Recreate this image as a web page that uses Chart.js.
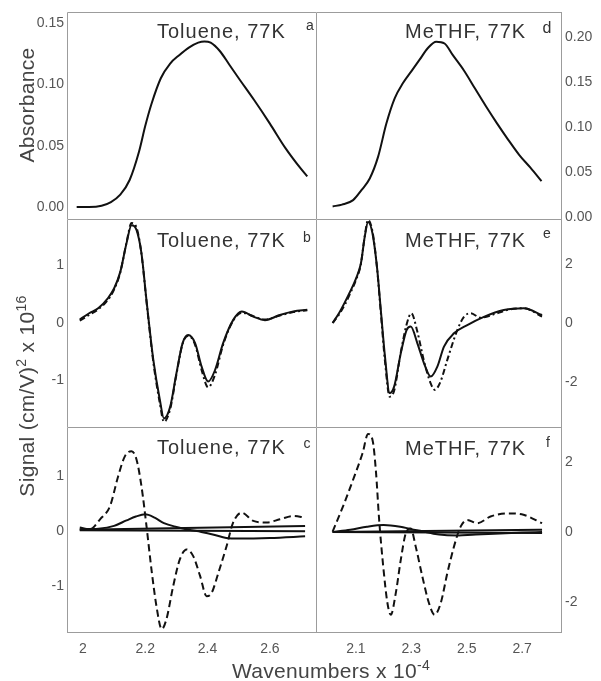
<!DOCTYPE html>
<html lang="en">
<head>
<meta charset="UTF-8">
<title>Stark spectra, Toluene and MeTHF at 77K</title>
<script src="https://cdn.jsdelivr.net/npm/chart.js"></script>
<style>
  body { margin: 0; background: #fff; }
  #fig { position: relative; width: 601px; height: 681px; overflow: hidden;
         font-family: "Liberation Sans", Arial, sans-serif; }
  .panel { position: absolute; }
  .txt { position: absolute; white-space: nowrap; color: #333; font-size: 20px; line-height: 20px; letter-spacing: 1px; }
  .tag { position: absolute; white-space: nowrap; color: #333; font-size: 14px; line-height: 14px; transform: translate(-50%, -50%); }
  .axt { position: absolute; white-space: nowrap; color: #444; font-size: 21px; line-height: 21px; letter-spacing: 0.3px; }
  .rot { transform: translate(-50%, -50%) rotate(-90deg); }
  sup { font-size: 14px; line-height: 0; }
</style>
</head>
<body>
<div id="fig">
  <div class="panel" style="left:0;top:0;width:316px;height:219px"><canvas id="pa"></canvas></div>
  <div class="panel" style="left:0;top:219px;width:316px;height:208px"><canvas id="pb"></canvas></div>
  <div class="panel" style="left:0;top:427px;width:316px;height:254px"><canvas id="pc"></canvas></div>
  <div class="panel" style="left:316px;top:0;width:285px;height:232px"><canvas id="pd"></canvas></div>
  <div class="panel" style="left:316px;top:219px;width:285px;height:208px"><canvas id="pe"></canvas></div>
  <div class="panel" style="left:316px;top:427px;width:285px;height:254px"><canvas id="pf"></canvas></div>

  <div class="txt" style="left:157px;top:21px">Toluene, 77K</div>
  <div class="txt" style="left:157px;top:230px">Toluene, 77K</div>
  <div class="txt" style="left:157px;top:437px">Toluene, 77K</div>
  <div class="txt" style="left:405px;top:21px">MeTHF, 77K</div>
  <div class="txt" style="left:405px;top:230px">MeTHF, 77K</div>
  <div class="txt" style="left:405px;top:438px">MeTHF, 77K</div>

  <div class="tag" style="left:310px;top:25px">a</div>
  <div class="tag" style="left:307px;top:237px">b</div>
  <div class="tag" style="left:307px;top:443px">c</div>
  <div class="tag" style="left:547px;top:28px;font-size:16px">d</div>
  <div class="tag" style="left:547px;top:233px">e</div>
  <div class="tag" style="left:548px;top:442px">f</div>

  <div class="axt rot" style="left:26px;top:105px">Absorbance</div>
  <div class="axt rot" style="left:26px;top:396px">Signal (cm/V)<sup>2</sup> x 10<sup>16</sup></div>
  <div class="axt" style="left:232px;top:660px">Wavenumbers x 10<sup>-4</sup></div>
</div>

<script>
  // tick values
  const xTicksLeft = [2.0, 2.2, 2.4, 2.6]
  const xTicksRight = [2.1, 2.3, 2.5, 2.7]
  const absTicksTol = [0, 0.05, 0.10, 0.15]
  const absTicksMe = [0, 0.05, 0.10, 0.15, 0.20]
  const sigTicksTol = [-1, 0, 1]
  const sigTicksMe = [-2, 0, 2]

  // a: toluene absorbance
  const absTolX = [1.98, 2.02, 2.06, 2.09, 2.12, 2.15, 2.18, 2.20, 2.22, 2.25, 2.28, 2.31, 2.34, 2.37, 2.39, 2.41, 2.44, 2.47, 2.50, 2.55, 2.60, 2.65, 2.70, 2.72]
  const absTolY = [0.000, 0.000, 0.001, 0.004, 0.010, 0.022, 0.045, 0.066, 0.084, 0.105, 0.117, 0.124, 0.130, 0.134, 0.135, 0.134, 0.127, 0.116, 0.105, 0.087, 0.068, 0.048, 0.031, 0.025]

  // d: MeTHF absorbance
  const absMeX = [2.016, 2.05, 2.09, 2.12, 2.15, 2.18, 2.21, 2.24, 2.27, 2.30, 2.33, 2.36, 2.39, 2.42, 2.45, 2.49, 2.53, 2.57, 2.61, 2.65, 2.69, 2.73, 2.77]
  const absMeY = [0.012, 0.014, 0.019, 0.030, 0.043, 0.067, 0.104, 0.132, 0.149, 0.162, 0.175, 0.188, 0.195, 0.193, 0.180, 0.163, 0.143, 0.123, 0.104, 0.086, 0.069, 0.055, 0.040]

  // b: toluene Stark signal, measured (solid) and fit (dash-dot)
  const starkTolX = [1.99, 2.02, 2.05, 2.08, 2.10, 2.12, 2.14, 2.156, 2.172, 2.188, 2.204, 2.226, 2.247, 2.26, 2.28, 2.30, 2.32, 2.338, 2.36, 2.381, 2.402, 2.424, 2.45, 2.482, 2.51, 2.547, 2.584, 2.632, 2.675, 2.72]
  const starkTolData = [0.06, 0.17, 0.26, 0.43, 0.60, 0.89, 1.39, 1.70, 1.62, 1.21, 0.40, -0.64, -1.34, -1.66, -1.46, -0.88, -0.35, -0.21, -0.35, -0.76, -1.02, -0.82, -0.35, 0.05, 0.20, 0.11, 0.05, 0.14, 0.20, 0.23]
  const starkTolFit = [0.04, 0.14, 0.24, 0.40, 0.58, 0.88, 1.40, 1.74, 1.66, 1.20, 0.38, -0.68, -1.40, -1.72, -1.50, -0.90, -0.36, -0.22, -0.38, -0.82, -1.12, -0.90, -0.38, 0.04, 0.18, 0.12, 0.06, 0.13, 0.19, 0.22]

  // e: MeTHF Stark signal
  const starkMeX = [2.016, 2.04, 2.06, 2.08, 2.10, 2.118, 2.132, 2.144, 2.16, 2.176, 2.19, 2.205, 2.222, 2.238, 2.262, 2.283, 2.298, 2.322, 2.346, 2.37, 2.394, 2.418, 2.454, 2.502, 2.562, 2.634, 2.706, 2.772]
  const starkMeData = [0.0, 0.35, 0.70, 1.08, 1.50, 2.02, 2.93, 3.43, 3.04, 1.91, 0.44, -1.14, -2.38, -2.16, -1.03, -0.24, -0.12, -0.69, -1.37, -1.82, -1.48, -0.80, -0.35, -0.07, 0.21, 0.44, 0.50, 0.27]
  const starkMeFitX = [2.016, 2.04, 2.06, 2.08, 2.10, 2.118, 2.132, 2.144, 2.16, 2.176, 2.19, 2.205, 2.222, 2.238, 2.262, 2.283, 2.30, 2.322, 2.346, 2.37, 2.385, 2.405, 2.43, 2.466, 2.49, 2.514, 2.55, 2.60, 2.65, 2.706, 2.772]
  const starkMeFit = [0.0, 0.30, 0.62, 1.02, 1.45, 2.00, 2.95, 3.50, 3.10, 1.90, 0.35, -1.30, -2.50, -2.30, -1.00, -0.05, 0.33, -0.30, -1.30, -2.05, -2.27, -2.00, -1.25, -0.24, 0.21, 0.33, 0.18, 0.30, 0.45, 0.50, 0.22]

  // c: toluene fit components
  const compTolDashX = [1.99, 2.022, 2.055, 2.087, 2.113, 2.135, 2.156, 2.172, 2.188, 2.204, 2.22, 2.236, 2.253, 2.268, 2.29, 2.311, 2.333, 2.354, 2.376, 2.397, 2.413, 2.435, 2.461, 2.482, 2.51, 2.547, 2.59, 2.632, 2.675, 2.713]
  const compTolDashY = [0.07, 0.04, 0.22, 0.46, 1.00, 1.37, 1.46, 1.31, 0.82, 0.10, -0.69, -1.36, -1.78, -1.60, -0.99, -0.51, -0.33, -0.45, -0.81, -1.18, -1.12, -0.75, -0.27, 0.16, 0.34, 0.19, 0.16, 0.22, 0.28, 0.25]
  const compTolBumpX = [1.99, 2.05, 2.10, 2.14, 2.17, 2.20, 2.23, 2.26, 2.30, 2.34, 2.38, 2.42, 2.46, 2.50, 2.60, 2.713]
  const compTolBumpY = [0.04, 0.05, 0.10, 0.20, 0.27, 0.31, 0.25, 0.15, 0.08, 0.03, -0.01, -0.06, -0.12, -0.13, -0.12, -0.09]
  const compTolFlatX = [1.99, 2.713]
  const compTolFlatA = [0.03, 0.10]
  const compTolFlatB = [0.02, 0.0]

  // f: MeTHF fit components
  const compMeDashX = [2.016, 2.058, 2.094, 2.124, 2.144, 2.16, 2.172, 2.184, 2.2, 2.214, 2.226, 2.244, 2.262, 2.28, 2.298, 2.316, 2.34, 2.364, 2.384, 2.406, 2.43, 2.454, 2.478, 2.502, 2.538, 2.586, 2.646, 2.705, 2.772]
  const compMeDashY = [0.01, 0.82, 1.58, 2.25, 2.80, 2.63, 1.77, 0.34, -1.09, -2.04, -2.37, -1.75, -0.80, -0.04, 0.10, -0.42, -1.28, -2.04, -2.37, -2.04, -1.18, -0.42, 0.15, 0.34, 0.25, 0.44, 0.53, 0.49, 0.25]
  const compMeBumpX = [2.016, 2.08, 2.14, 2.20, 2.26, 2.30, 2.34, 2.38, 2.42, 2.47, 2.52, 2.60, 2.70, 2.772]
  const compMeBumpY = [0.0, 0.06, 0.15, 0.20, 0.15, 0.08, 0.02, -0.05, -0.09, -0.10, -0.08, -0.05, -0.02, 0.0]
  const compMeFlatX = [2.016, 2.772]
  const compMeFlatA = [0.0, 0.06]
  const compMeFlatB = [0.0, -0.03]

  const tickFont = { family: '"Liberation Sans", Arial, sans-serif', size: 14 }
  const frameColor = '#9c9c9c'

  // panel frame: top + left always, right / bottom on outer panels
  const framePlugin = {
    id: 'frame',
    afterDraw(chart, args, opts) {
      const { ctx, chartArea: a } = chart
      ctx.save()
      ctx.strokeStyle = frameColor
      ctx.lineWidth = 1
      ctx.beginPath()
      ctx.moveTo(a.left + 0.5, a.bottom)
      ctx.lineTo(a.left + 0.5, a.top + 0.5)
      ctx.lineTo(a.right, a.top + 0.5)
      if (opts.right) {
        ctx.moveTo(a.right - 0.5, a.top)
        ctx.lineTo(a.right - 0.5, a.bottom)
      }
      if (opts.bottom) {
        ctx.moveTo(a.left, a.bottom - 0.5)
        ctx.lineTo(a.right, a.bottom - 0.5)
      }
      ctx.stroke()
      ctx.restore()
    }
  }

  const line = (xs, ys, dash) => ({
    data: xs.map((x, i) => ({ x: x, y: ys[i] })),
    borderColor: '#111',
    borderWidth: 2,
    borderDash: dash || [],
    pointRadius: 0,
    fill: false,
    cubicInterpolationMode: 'monotone'
  })

  const makeChart = (id, datasets, o) => new Chart(document.getElementById(id), {
    type: 'line',
    data: { datasets: datasets },
    plugins: [framePlugin],
    options: {
      responsive: true,
      maintainAspectRatio: false,
      animation: false,
      layout: { padding: { top: o.padTop || 0, bottom: o.padBottom || 0 } },
      plugins: {
        legend: { display: false },
        tooltip: { enabled: false },
        frame: { right: o.side === 'right', bottom: !!o.showX }
      },
      scales: {
        x: {
          type: 'linear',
          display: !!o.showX,
          min: o.xRange[0],
          max: o.xRange[1],
          afterBuildTicks: s => { s.ticks = o.xTicks.map(v => ({ value: v })) },
          afterFit: s => {
            s.height = o.showX ? 48 : 0
            s.paddingLeft = 0
            s.paddingRight = 0
          },
          grid: { display: false, drawTicks: false },
          border: { display: false },
          ticks: { font: tickFont, color: '#555', padding: 8, maxRotation: 0, callback: v => String(v) }
        },
        y: {
          type: 'linear',
          position: o.side,
          min: o.yRange[0],
          max: o.yRange[1],
          afterBuildTicks: s => { s.ticks = o.yTicks.map(v => ({ value: v })) },
          afterFit: s => {
            s.width = o.side === 'left' ? 67 : 39
            s.paddingTop = 0
            s.paddingBottom = 0
          },
          grid: { display: false, drawTicks: false },
          border: { display: false },
          ticks: { font: tickFont, color: '#555', padding: 3, callback: o.fmt }
        }
      }
    }
  })

  const fmtAbs = v => v.toFixed(2)
  const fmtSig = v => String(v)
  const dashDot = [6, 3, 2, 3]
  const dashed = [7, 4]

  makeChart('pa', [line(absTolX, absTolY)],
    { side: 'left', padTop: 12, xRange: [1.949, 2.748], xTicks: xTicksLeft, yRange: [-0.0098, 0.159], yTicks: absTicksTol, fmt: fmtAbs })
  makeChart('pb', [line(starkTolX, starkTolData), line(starkTolX, starkTolFit, dashDot)],
    { side: 'left', xRange: [1.949, 2.748], xTicks: xTicksLeft, yRange: [-1.81, 1.81], yTicks: sigTicksTol, fmt: fmtSig })
  makeChart('pc', [
      line(compTolDashX, compTolDashY, dashed),
      line(compTolBumpX, compTolBumpY),
      line(compTolFlatX, compTolFlatA),
      line(compTolFlatX, compTolFlatB)
    ],
    { side: 'left', showX: true, xRange: [1.949, 2.748], xTicks: xTicksLeft, yRange: [-1.85, 1.9], yTicks: sigTicksTol, fmt: fmtSig })
  makeChart('pd', [line(absMeX, absMeY)],
    { side: 'right', padTop: 12, padBottom: 13, xRange: [1.956, 2.844], xTicks: xTicksRight, yRange: [-0.002, 0.228], yTicks: absTicksMe, fmt: fmtAbs })
  makeChart('pe', [line(starkMeX, starkMeData), line(starkMeFitX, starkMeFit, dashDot)],
    { side: 'right', xRange: [1.956, 2.844], xTicks: xTicksRight, yRange: [-3.53, 3.53], yTicks: sigTicksMe, fmt: fmtSig })
  makeChart('pf', [
      line(compMeDashX, compMeDashY, dashed),
      line(compMeBumpX, compMeBumpY),
      line(compMeFlatX, compMeFlatA),
      line(compMeFlatX, compMeFlatB)
    ],
    { side: 'right', showX: true, xRange: [1.956, 2.844], xTicks: xTicksRight, yRange: [-2.89, 3.0], yTicks: sigTicksMe, fmt: fmtSig })
</script>
</body>
</html>
